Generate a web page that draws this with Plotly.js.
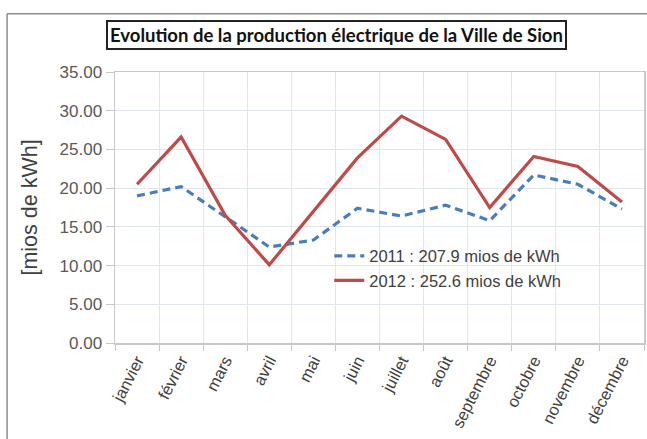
<!DOCTYPE html>
<html>
<head>
<meta charset="utf-8">
<script src="https://cdn.plot.ly/plotly-3.0.1.min.js"></script>
<style>
  html, body { margin: 0; padding: 0; background: #ffffff; }
  #chart { width: 647px; height: 439px; }
</style>
</head>
<body>
<div id="chart"></div>
<script>
const months = ["janvier", "février", "mars", "avril", "mai", "juin", "juillet", "août", "septembre", "octobre", "novembre", "décembre"];
const values2011 = [19.0, 20.2, 16.3, 12.4, 13.3, 17.4, 16.4, 17.8, 15.8, 21.7, 20.5, 17.3];
const values2012 = [20.5, 26.6, 16.5, 10.1, 17.0, 23.9, 29.3, 26.3, 17.5, 24.1, 22.8, 18.2];
const label2011 = "2011 : 207.9 mios de kWh";
const label2012 = "2012 : 252.6 mios de kWh";
const chartTitle = "Evolution de la production électrique de la Ville de Sion";
const yTitle = "[mios de kWh]";

const traces = [
  {
    x: months, y: values2011, name: label2011, type: "scatter", mode: "lines",
    line: { color: "#4a7ebb", width: 3.2, dash: "8px,5px" }
  },
  {
    x: months, y: values2012, name: label2012, type: "scatter", mode: "lines",
    line: { color: "#be4b48", width: 3.2 }
  }
];

const layout = {
  width: 647, height: 439,
  margin: { l: 115, r: 3, t: 72, b: 96 },
  paper_bgcolor: "#ffffff", plot_bgcolor: "#ffffff",
  font: { family: "Liberation Sans, Arial, sans-serif", color: "#595959" },
  showlegend: true,
  legend: {
    x: 0.405, y: 0.385, xanchor: "left", yanchor: "top",
    bgcolor: "rgba(0,0,0,0)", borderwidth: 0,
    font: { size: 16.5, color: "#404040", family: "Liberation Sans, Arial, sans-serif" },
    tracegroupgap: 0, itemwidth: 30
  },
  xaxis: {
    type: "category",
    tickson: "boundaries",
    ticks: "outside", ticklen: 6, tickcolor: "#c8c8c8",
    showgrid: true, gridcolor: "#e2e7ee", gridwidth: 1,
    showline: true, linecolor: "#c8c8c8", linewidth: 1.5, mirror: true,
    tickangle: -63,
    tickfont: { size: 16.5, color: "#404040" },
    range: [-0.5, 11.5],
    fixedrange: true
  },
  yaxis: {
    range: [0, 35], dtick: 5, tick0: 0,
    tickformat: ".2f",
    ticks: "outside", ticklen: 8, tickcolor: "#c8c8c8",
    showgrid: true, gridcolor: "#dfe6f0", gridwidth: 1,
    showline: true, linecolor: "#c8c8c8", linewidth: 1.5, mirror: true,
    zeroline: false,
    tickfont: { size: 17, color: "#595959" },
    title: { text: yTitle, font: { size: 21.5, color: "#404040" }, standoff: 16 },
    fixedrange: true
  },
  annotations: [
    {
      text: "<b>" + chartTitle + "</b>",
      xref: "paper", yref: "paper",
      x: 0.419, y: 1.135, xanchor: "center", yanchor: "middle",
      showarrow: false,
      font: { family: "Lato, Carlito, sans-serif", size: 18.5, color: "#111111" },
      bordercolor: "#222222", borderwidth: 2, borderpad: 2, bgcolor: "#ffffff"
    }
  ],
  shapes: [
    { type: "line", xref: "paper", yref: "paper", x0: -0.204, x1: 1.2, y0: 1.215, y1: 1.215,
      line: { color: "#8c8c8c", width: 1.5 } },
    { type: "line", xref: "paper", yref: "paper", x0: -0.204, x1: -0.204, y0: 1.215, y1: -0.4,
      line: { color: "#8c8c8c", width: 1.5 } }
  ]
};

Plotly.newPlot("chart", traces, layout, { displayModeBar: false, staticPlot: true });
</script>
</body>
</html>
